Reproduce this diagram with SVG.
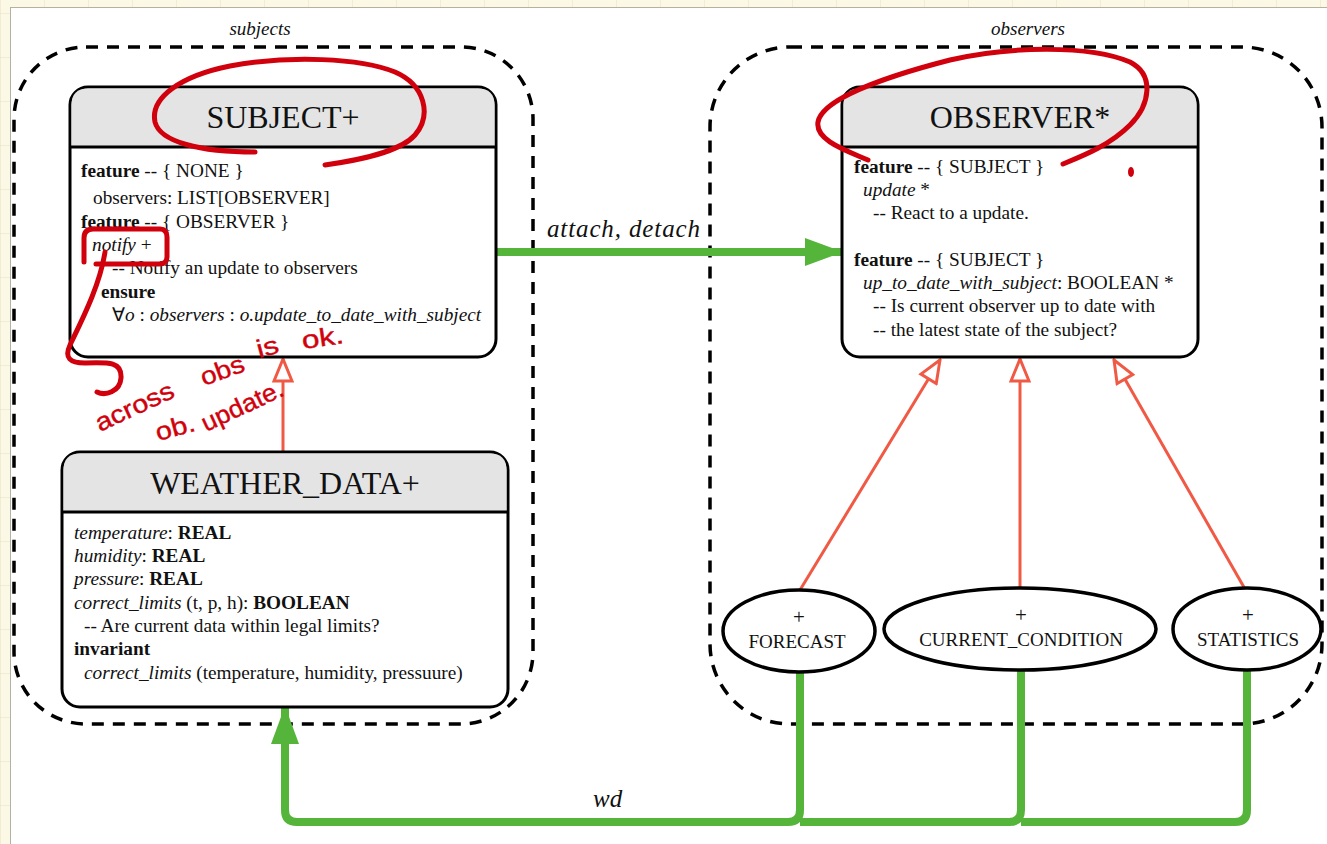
<svg xmlns="http://www.w3.org/2000/svg" width="1327" height="844" viewBox="0 0 1327 844">
  <defs>
    <pattern id="grid" x="1" y="14" width="44" height="44" patternUnits="userSpaceOnUse">
      <path d="M44,0 V44 M0,44 H44" fill="none" stroke="#e8e0c2" stroke-width="1"/>
    </pattern>
    <marker id="inherit" viewBox="0 0 26 22" refX="24" refY="11" markerWidth="26" markerHeight="22" markerUnits="userSpaceOnUse" orient="auto">
      <path d="M2,2 L24,11 L2,20 Z" fill="#fff" stroke="#f05a45" stroke-width="3" stroke-linejoin="miter"/>
    </marker>
    <marker id="flow" viewBox="0 0 38 30" refX="37" refY="15" markerWidth="38" markerHeight="30" markerUnits="userSpaceOnUse" orient="auto">
      <path d="M0,1 L38,15 L0,29 Z" fill="#55b53a"/>
    </marker>
  </defs>
  <style>
    text { font-family: "Liberation Serif", "Times New Roman", serif; fill: #111; }
    .body { font-size: 19.3px; }
    .title { font-size: 32px; text-anchor: middle; }
    .it { font-style: italic; }
    .b { font-weight: bold; }
    .cluster { fill: none; stroke: #000; stroke-width: 3.5; stroke-dasharray: 12 9; }
    .cluster-label { font-size: 19px; font-style: italic; text-anchor: middle; }
    .box { fill: #fff; stroke: #000; stroke-width: 3; }
    .header { fill: #e4e4e4; }
    .ell { fill: #fff; stroke: #000; stroke-width: 3.5; }
    .ell-text { font-size: 19px; text-anchor: middle; }
    .plus { font-size: 21px; text-anchor: middle; }
    .gen { fill: none; stroke: #f05a45; stroke-width: 3; }
    .assoc { fill: none; stroke: #55b53a; stroke-width: 8; stroke-linejoin: round; }
    .edge-label { font-size: 25px; font-style: italic; }
    .ink { fill: none; stroke: #d0000c; stroke-width: 5; stroke-linecap: round; stroke-linejoin: round; }
    .ink-text { font-family: "Liberation Sans", Arial, sans-serif; font-size: 25px; fill: #d0000c; stroke: #d0000c; stroke-width: 0.4; }
  </style>

  <!-- notebook background and page -->
  <rect x="0" y="0" width="1327" height="844" fill="#fcf8e6"/>
  <rect x="0" y="0" width="1327" height="844" fill="url(#grid)"/>
  <rect x="10.5" y="7.5" width="1330" height="850" fill="#fff" stroke="#b5b0a0" stroke-width="1"/>

  <!-- clusters -->
  <g id="cluster-subjects">
    <rect class="cluster" x="14" y="47" width="519" height="677" rx="72" ry="72"/>
    <text class="cluster-label" x="260" y="35">subjects</text>
  </g>
  <g id="cluster-observers">
    <rect class="cluster" x="710" y="47" width="612" height="677" rx="80" ry="80"/>
    <text class="cluster-label" x="1028" y="35">observers</text>
  </g>

  <!-- connectors -->
  <g id="connectors">
    <!-- inheritance -->
    <line class="gen" x1="283" y1="452" x2="283" y2="359" marker-end="url(#inherit)"/>
    <line class="gen" x1="800" y1="590" x2="940" y2="360" marker-end="url(#inherit)"/>
    <line class="gen" x1="1020" y1="588" x2="1020" y2="359" marker-end="url(#inherit)"/>
    <line class="gen" x1="1245" y1="589" x2="1114" y2="360" marker-end="url(#inherit)"/>
    <!-- attach, detach -->
    <line class="assoc" x1="497" y1="252" x2="842" y2="252" marker-end="url(#flow)"/>
    <text class="edge-label" x="547" y="237" textLength="153" lengthAdjust="spacing">attach, detach</text>
    <!-- wd -->
    <path class="assoc" d="M1247,671 V810 Q1247,822 1235,822 H1021"/>
    <path class="assoc" d="M1021,670 V810 Q1021,822 1009,822 H800"/>
    <path class="assoc" d="M800,672 V810 Q800,822 788,822 H297 Q285,822 285,810 V707" marker-end="url(#flow)"/>
    <text class="edge-label" x="593" y="807">wd</text>
  </g>

  <!-- SUBJECT+ -->
  <g id="node-subject">
    <rect class="box" x="70" y="87" width="426" height="270" rx="18" ry="18"/>
    <path class="header" d="M88,88.5 H478 Q494.5,88.5 494.5,105 V146 H71.5 V105 Q71.5,88.5 88,88.5 Z"/>
    <line x1="70" y1="147" x2="496" y2="147" stroke="#000" stroke-width="3"/>
    <text class="title" x="283" y="128">SUBJECT+</text>
    <text class="body" x="81" y="177"><tspan class="b">feature</tspan> -- { NONE }</text>
    <text class="body" x="93" y="204">observers: LIST[OBSERVER]</text>
    <text class="body" x="81" y="228"><tspan class="b">feature</tspan> -- { OBSERVER }</text>
    <text class="body" x="92" y="251"><tspan class="it">notify</tspan> +</text>
    <text class="body" x="112" y="274">-- Notify an update to observers</text>
    <text class="body b" x="101" y="298">ensure</text>
    <text class="body" x="112" y="321">∀<tspan class="it">o</tspan> : <tspan class="it">observers</tspan> : <tspan class="it">o.update_to_date_with_subject</tspan></text>
  </g>

  <!-- WEATHER_DATA+ -->
  <g id="node-weather-data">
    <rect class="box" x="62" y="452" width="446" height="255" rx="18" ry="18"/>
    <path class="header" d="M80,453.5 H490 Q506.5,453.5 506.5,470 V511 H63.5 V470 Q63.5,453.5 80,453.5 Z"/>
    <line x1="62" y1="512" x2="508" y2="512" stroke="#000" stroke-width="3"/>
    <text class="title" x="285" y="494">WEATHER_DATA+</text>
    <text class="body" x="74" y="539"><tspan class="it">temperature</tspan>: <tspan class="b">REAL</tspan></text>
    <text class="body" x="74" y="562"><tspan class="it">humidity</tspan>: <tspan class="b">REAL</tspan></text>
    <text class="body" x="74" y="585"><tspan class="it">pressure</tspan>: <tspan class="b">REAL</tspan></text>
    <text class="body" x="74" y="609"><tspan class="it">correct_limits</tspan> (t, p, h): <tspan class="b">BOOLEAN</tspan></text>
    <text class="body" x="84" y="632">-- Are current data within legal limits?</text>
    <text class="body b" x="74" y="655">invariant</text>
    <text class="body" x="84" y="679"><tspan class="it">correct_limits</tspan> (temperature, humidity, pressuure)</text>
  </g>

  <!-- OBSERVER* -->
  <g id="node-observer">
    <rect class="box" x="842" y="87" width="356" height="270" rx="18" ry="18"/>
    <path class="header" d="M860,88.5 H1180 Q1196.5,88.5 1196.5,105 V146 H843.5 V105 Q843.5,88.5 860,88.5 Z"/>
    <line x1="842" y1="147" x2="1198" y2="147" stroke="#000" stroke-width="3"/>
    <text class="title" x="1020" y="128">OBSERVER*</text>
    <text class="body" x="854" y="173"><tspan class="b">feature</tspan> -- { SUBJECT }</text>
    <text class="body" x="863" y="196"><tspan class="it">update</tspan> *</text>
    <text class="body" x="873" y="219">-- React to a update.</text>
    <text class="body" x="854" y="266"><tspan class="b">feature</tspan> -- { SUBJECT }</text>
    <text class="body" x="863" y="289"><tspan class="it">up_to_date_with_subject</tspan>: BOOLEAN *</text>
    <text class="body" x="873" y="312">-- Is current observer up to date with</text>
    <text class="body" x="873" y="336">-- the latest state of the subject?</text>
  </g>

  <!-- concrete observers -->
  <g id="node-forecast">
    <ellipse class="ell" cx="799" cy="631" rx="76" ry="41"/>
    <text class="plus" x="799" y="624">+</text>
    <text class="ell-text" x="797" y="648">FORECAST</text>
  </g>
  <g id="node-current-condition">
    <ellipse class="ell" cx="1020" cy="629" rx="136" ry="41"/>
    <text class="plus" x="1021" y="622">+</text>
    <text class="ell-text" x="1021" y="646">CURRENT_CONDITION</text>
  </g>
  <g id="node-statistics">
    <ellipse class="ell" cx="1247" cy="629" rx="74" ry="41"/>
    <text class="plus" x="1248" y="622">+</text>
    <text class="ell-text" x="1248" y="646">STATISTICS</text>
  </g>

  <!-- red pen notes -->
  <g id="pen-notes">
    <path class="ink" d="M325,165 C360,160 400,152 415,135 C432,115 425,85 395,72 C360,58 290,55 230,66 C180,76 150,98 155,122 C160,142 200,152 255,152"/>
    <path class="ink" d="M868,160 C845,150 815,140 818,122 C822,100 880,78 950,60 C1010,46 1090,45 1130,62 C1155,75 1150,105 1130,125 C1110,145 1085,155 1063,164"/>
    <ellipse cx="1131" cy="172" rx="3" ry="5" fill="#d0000c"/>
    <path class="ink" d="M84,262 V238 Q84,229 93,229 H160 Q167,229 167,237 V257 Q167,264 159,264 H96"/>
    <path class="ink" d="M105,252 C100,285 82,320 70,345 C64,358 70,363 85,363 C110,362 122,362 121,378 C120,392 105,396 97,392"/>
    <text class="ink-text" transform="translate(100,432) rotate(-25)" textLength="84" lengthAdjust="spacingAndGlyphs">across</text>
    <text class="ink-text" transform="translate(204,386) rotate(-20)" textLength="45" lengthAdjust="spacingAndGlyphs">obs</text>
    <text class="ink-text" transform="translate(259,358) rotate(-15)" textLength="22" lengthAdjust="spacingAndGlyphs">is</text>
    <text class="ink-text" transform="translate(303,349) rotate(-8)" textLength="42" lengthAdjust="spacingAndGlyphs">ok.</text>
    <text class="ink-text" transform="translate(158,441) rotate(-15)" textLength="40" lengthAdjust="spacingAndGlyphs">ob.</text>
    <text class="ink-text" transform="translate(206,432) rotate(-25)" textLength="88" lengthAdjust="spacingAndGlyphs">update.</text>
  </g>
</svg>
